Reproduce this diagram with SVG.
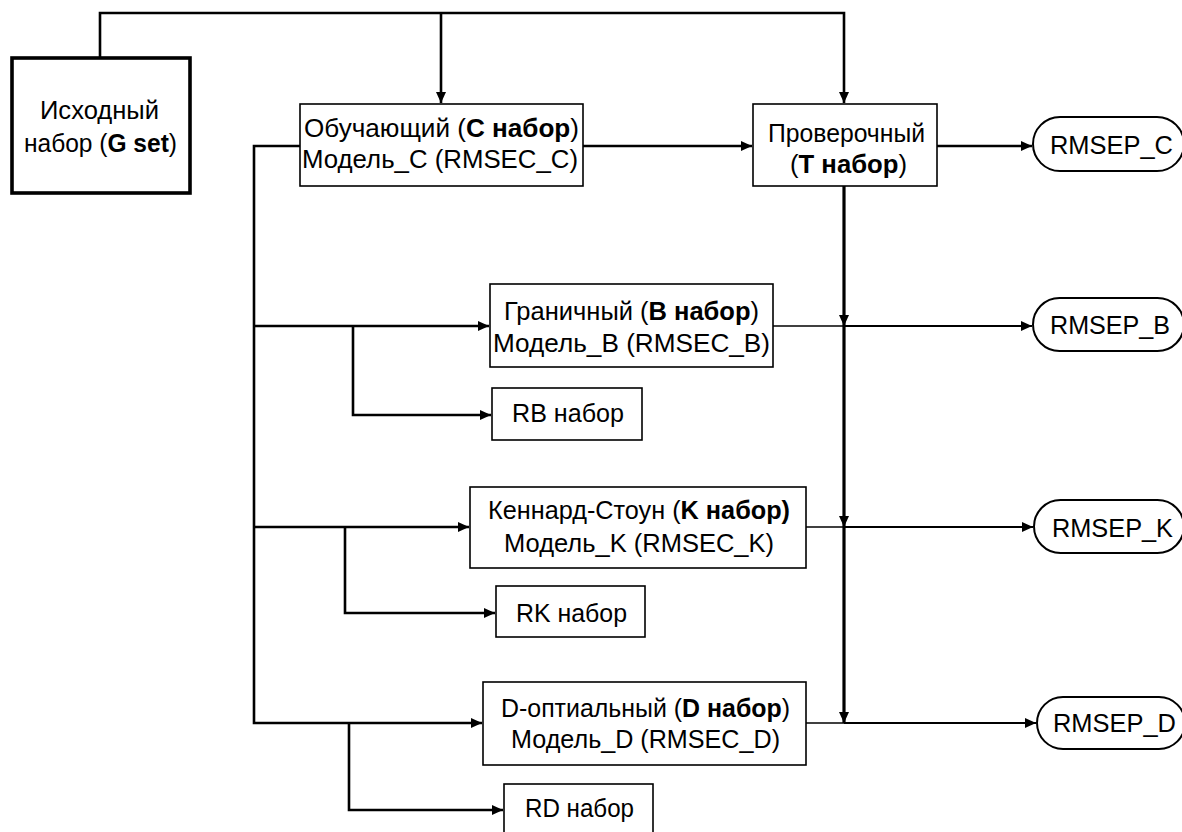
<svg xmlns="http://www.w3.org/2000/svg" width="1182" height="832" viewBox="0 0 1182 832">
<style>
  text { font-family: "Liberation Sans", Arial, sans-serif; font-size: 25px; fill: #000; text-anchor: middle; }
  .b { font-weight: bold; }
  .box { fill: #fff; stroke: #000; stroke-width: 1.6; }
  .gbox { fill: #fff; stroke: #000; stroke-width: 3.6; }
  .pill { fill: #fff; stroke: #000; stroke-width: 2; }
  .c { fill: none; stroke: #000; stroke-width: 2.6; }
  .thin { fill: none; stroke: #000; stroke-width: 1.5; }
  .mid { fill: none; stroke: #000; stroke-width: 2.2; }
  .vert { fill: none; stroke: #000; stroke-width: 3.2; }
</style>
<defs>
  <marker id="ah" markerUnits="userSpaceOnUse" markerWidth="12" markerHeight="10" refX="11" refY="5" orient="auto">
    <path d="M0,0 L11,5 L0,10 z" fill="#000"/>
  </marker>
</defs>
<rect width="1182" height="832" fill="#fff"/>
<g id="connectors">
  <path class="c" d="M100,58 V13 H844 V103" marker-end="url(#ah)"/>
  <path class="c" d="M441,13 V103" marker-end="url(#ah)"/>
  <path class="c" d="M583,146 H752" marker-end="url(#ah)"/>
  <path class="c" d="M937,146 H1032" marker-end="url(#ah)"/>
  <path class="c" d="M300,146 H254 V723 H482" marker-end="url(#ah)"/>
  <path class="c" d="M254,326 H489" marker-end="url(#ah)"/>
  <path class="c" d="M254,527 H469" marker-end="url(#ah)"/>
  <path class="c" d="M353,326 V415 H491" marker-end="url(#ah)"/>
  <path class="c" d="M345,527 V613 H495" marker-end="url(#ah)"/>
  <path class="c" d="M349,723 V810 H503" marker-end="url(#ah)"/>
  <path class="vert" d="M844,186 V326" marker-end="url(#ah)"/>
  <path class="vert" d="M844,326 V527" marker-end="url(#ah)"/>
  <path class="vert" d="M844,527 V723" marker-end="url(#ah)"/>
  <path class="thin" d="M773,326 H844"/>
  <path class="thin" d="M806,527 H844"/>
  <path class="thin" d="M806,723 H844"/>
  <path class="mid" d="M844,326 H1032" marker-end="url(#ah)"/>
  <path class="mid" d="M844,527 H1033" marker-end="url(#ah)"/>
  <path class="mid" d="M844,723 H1036" marker-end="url(#ah)"/>
</g>
<g id="node-G">
  <rect class="gbox" x="12" y="58" width="178" height="135"/>
  <text x="99.5" y="119" textLength="119" lengthAdjust="spacingAndGlyphs">Исходный</text>
  <text x="100.5" y="152" textLength="153" lengthAdjust="spacingAndGlyphs">набор (<tspan class="b">G set</tspan>)</text>
</g>
<g id="node-C">
  <rect class="box" x="300" y="104" width="283" height="82"/>
  <text x="441.5" y="137" textLength="275" lengthAdjust="spacingAndGlyphs">Обучающий (<tspan class="b">C набор</tspan>)</text>
  <text x="440" y="168" textLength="276" lengthAdjust="spacingAndGlyphs">Модель_C (RMSEC_C)</text>
</g>
<g id="node-T">
  <rect class="box" x="753" y="104" width="184" height="82"/>
  <text x="846.5" y="142" textLength="157" lengthAdjust="spacingAndGlyphs">Проверочный</text>
  <text x="848.5" y="173" textLength="117" lengthAdjust="spacingAndGlyphs">(<tspan class="b">T набор</tspan>)</text>
</g>
<g id="node-RMSEP-C">
  <rect class="pill" x="1033" y="117" width="151" height="54" rx="27" ry="27"/>
  <text x="1111.5" y="154" textLength="123" lengthAdjust="spacingAndGlyphs">RMSEP_C</text>
</g>
<g id="node-B">
  <rect class="box" x="490" y="284" width="283" height="83"/>
  <text x="631.5" y="320" textLength="255" lengthAdjust="spacingAndGlyphs">Граничный (<tspan class="b">B набор</tspan>)</text>
  <text x="631.5" y="352" textLength="277" lengthAdjust="spacingAndGlyphs">Модель_B (RMSEC_B)</text>
</g>
<g id="node-RB">
  <rect class="box" x="492" y="388" width="150" height="52"/>
  <text x="568" y="422" textLength="112" lengthAdjust="spacingAndGlyphs">RB набор</text>
</g>
<g id="node-RMSEP-B">
  <rect class="pill" x="1033" y="298" width="151" height="53" rx="26.5" ry="26.5"/>
  <text x="1110" y="334" textLength="120" lengthAdjust="spacingAndGlyphs">RMSEP_B</text>
</g>
<g id="node-K">
  <rect class="box" x="470" y="487" width="336" height="81"/>
  <text x="639" y="519" textLength="302" lengthAdjust="spacingAndGlyphs">Кеннард-Стоун (<tspan class="b">K набор)</tspan></text>
  <text x="639" y="552" textLength="270" lengthAdjust="spacingAndGlyphs">Модель_K (RMSEC_K)</text>
</g>
<g id="node-RK">
  <rect class="box" x="496" y="586" width="149" height="51"/>
  <text x="571.5" y="622" textLength="111" lengthAdjust="spacingAndGlyphs">RK набор</text>
</g>
<g id="node-RMSEP-K">
  <rect class="pill" x="1034" y="500" width="150" height="53" rx="26.5" ry="26.5"/>
  <text x="1112.5" y="537" textLength="121" lengthAdjust="spacingAndGlyphs">RMSEP_K</text>
</g>
<g id="node-D">
  <rect class="box" x="483" y="682" width="323" height="83"/>
  <text x="645.5" y="717" textLength="289" lengthAdjust="spacingAndGlyphs">D-оптиальный (<tspan class="b">D набор</tspan>)</text>
  <text x="645.5" y="748" textLength="269" lengthAdjust="spacingAndGlyphs">Модель_D (RMSEC_D)</text>
</g>
<g id="node-RD">
  <rect class="box" x="504" y="784" width="149" height="54"/>
  <text x="579.5" y="817" textLength="109" lengthAdjust="spacingAndGlyphs">RD набор</text>
</g>
<g id="node-RMSEP-D">
  <rect class="pill" x="1037" y="697" width="148" height="52" rx="26" ry="26"/>
  <text x="1114.5" y="732" textLength="123" lengthAdjust="spacingAndGlyphs">RMSEP_D</text>
</g>
</svg>
